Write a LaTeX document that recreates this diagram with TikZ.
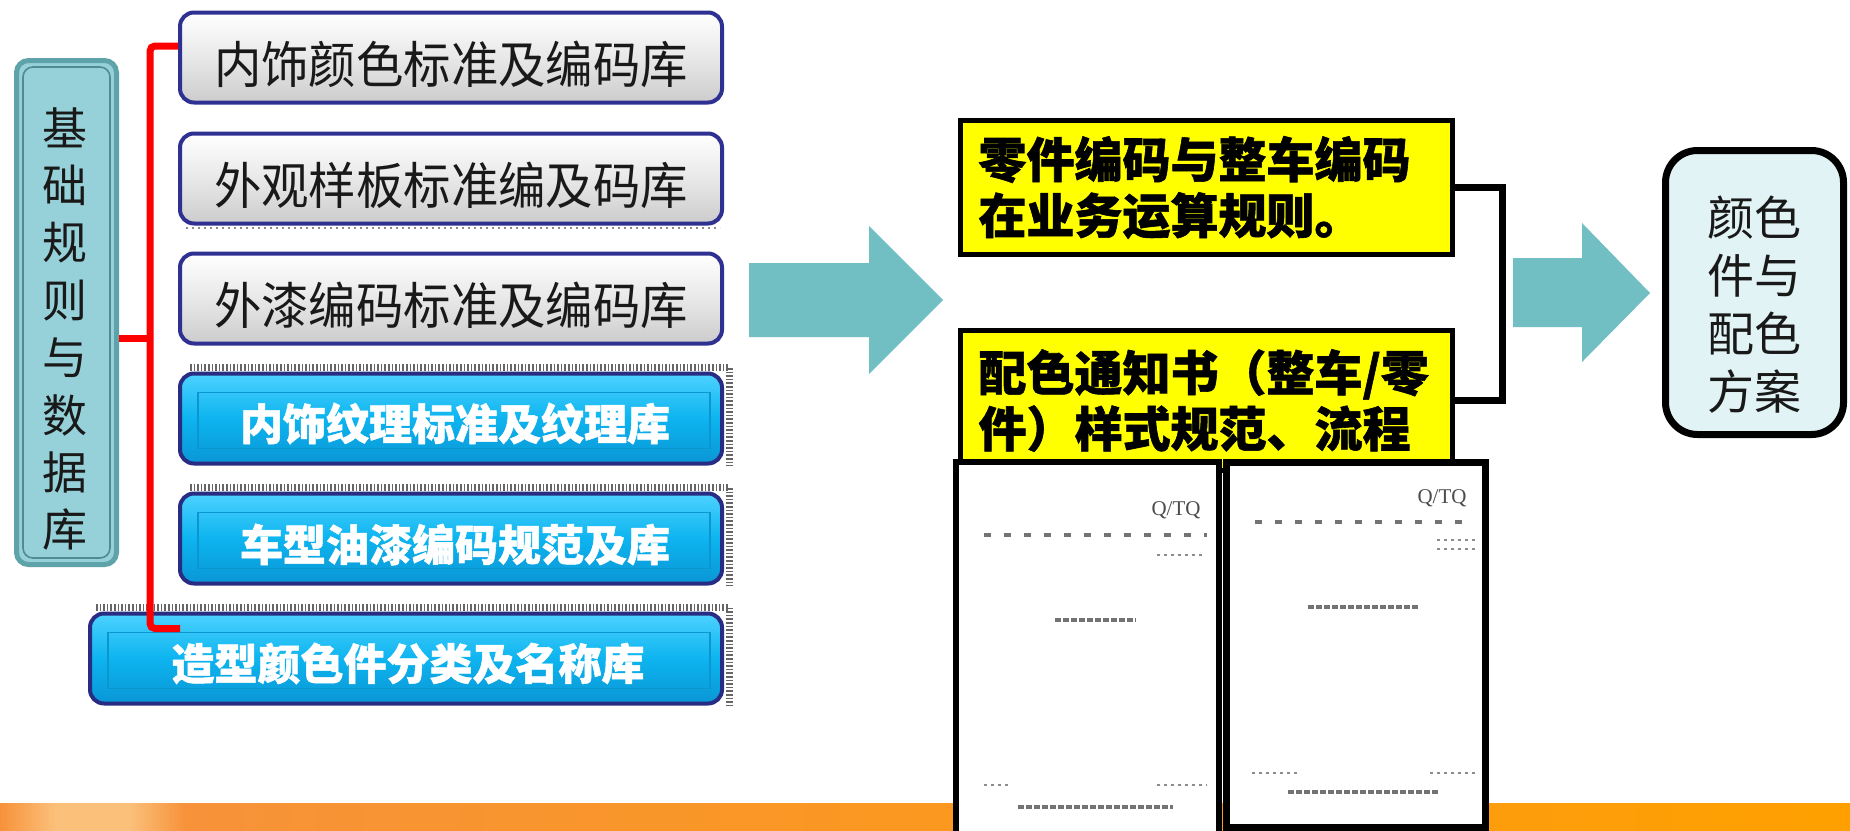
\documentclass[tikz,border=0pt]{standalone}
\usepackage{fontspec}
\newfontfamily\cjk[BoldFeatures={FakeBold=1.2}]{Noto Sans CJK SC}
\newfontfamily\docserif{Liberation Serif}
\usetikzlibrary{calc}
\definecolor{boxnavy}{HTML}{2E3192}
\definecolor{tealfill}{HTML}{96D1D9}
\definecolor{tealedge}{HTML}{5FA3AA}
\definecolor{arrowteal}{HTML}{72BFC3}
\definecolor{bluetop}{HTML}{4CD2FF}
\definecolor{bluemid}{HTML}{0DB4EF}
\definecolor{bluebot}{HTML}{0A96D6}
\definecolor{blueinner}{HTML}{0B96CF}
\definecolor{finfill}{HTML}{E1F3F4}
\definecolor{ylw}{HTML}{FFFF00}
\definecolor{orA}{HTML}{F7923A}
\definecolor{orH}{HTML}{FBC07A}
\definecolor{orB}{HTML}{FFA000}
\pgfdeclarehorizontalshading{band}{100bp}{color(0bp)=(orA); color(25bp)=(orA); color(26.5bp)=(orH); color(28.5bp)=(orH); color(30bp)=(orA); color(75bp)=(orB); color(100bp)=(orB)}
\newcommand{\dn}[2]{\raisebox{-#1}[\height][\depth]{#2}}
\newcommand{\tall}[1]{\scalebox{1}[1.06]{#1}}
\begin{document}
\begin{tikzpicture}[x=0.5pt,y=-0.5pt,
  graybox/.style={draw=boxnavy, line width=2pt, rounded corners=7pt,
    top color=white, bottom color=black!20, middle color=black!9,
    minimum width=271pt, minimum height=45pt, inner sep=0pt,
    font=\cjk\fontsize{23.7pt}{28pt}\selectfont, text=black!90},
  bluebox/.style={draw=boxnavy!90!black, line width=2pt, rounded corners=7pt,
    top color=bluetop, bottom color=bluebot, middle color=bluemid,
    minimum height=45pt, inner sep=0pt,
    font=\cjk\bfseries\fontsize{21.5pt}{26pt}\selectfont, text=white},
  dither/.style={line width=3.5pt, dash pattern=on 0.8pt off 1pt, black!60},
  bracket/.style={red, line width=3.5pt, rounded corners=2.5pt},
  blackline/.style={black, line width=3.5pt},
  ybox/.style={draw=black, line width=2.5pt, fill=ylw, minimum width=246pt,
    inner xsep=9pt, text width=228pt, align=left,
    font=\cjk\bfseries\fontsize{24pt}{28pt}\selectfont},
  docline/.style={line width=1.6pt, dash pattern=on 3pt off 2.5pt, black!55},
  docsmall/.style={line width=1pt, dash pattern=on 1.5pt off 2pt, black!45},
  qtq/.style={font=\docserif\fontsize{10.5pt}{12pt}\selectfont, text=black!70, inner sep=0pt}
]
\useasboundingbox (0,0) rectangle (1850,830);
\fill[white] (0,0) rectangle (1850,830);

% orange band at the bottom
\shade[shading=band] (0,803) rectangle (1850,830);

% dithered shadows
\draw[line width=1pt, dotted, black!45] (186,228) -- (720,228);
\draw[dither] (190,367) -- (729,367) -- (729,466);
\draw[dither] (190,487) -- (729,487) -- (729,586);
\draw[dither] (96,607) -- (729,607) -- (729,706);

% left column
\node[draw=tealedge, line width=2.5pt, fill=tealfill, rounded corners=6pt,
  minimum width=50pt, minimum height=252pt] (base) at (66.5,312.5) {};
\draw[tealedge!85!black, line width=0.8pt, rounded corners=5pt]
  ([shift={(9,9)}]base.north west) rectangle ([shift={(-9,-9)}]base.south east);
\node[font=\cjk\fontsize{22.5pt}{28.7pt}\selectfont, align=center, text=black!90, inner sep=0pt]
  (basetext) at (65,329) {基\\础\\规\\则\\与\\数\\据\\库};

\node[graybox] (g1) at (451,57.5) {\dn{3.5pt}{\tall{内饰颜色标准及编码库}}};
\node[graybox] (g2) at (451,178.5) {\dn{3.5pt}{\tall{外观样板标准编及码库}}};
\node[graybox] (g3) at (451,298.5) {\dn{3.5pt}{\tall{外漆编码标准及编码库}}};
\node[bluebox, minimum width=271pt] (b4) at (451,418.5) {\hspace*{4pt}\dn{2.5pt}{内饰纹理标准及纹理库}};
\node[bluebox, minimum width=271pt] (b5) at (451,538.5) {\hspace*{4pt}\dn{3pt}{车型油漆编码规范及库}};
\node[bluebox, minimum width=316pt] (b6) at (406,658.5) {\hspace*{2pt}\dn{2.5pt}{造型颜色件分类及名称库}};

% inner frames of the blue boxes
\draw[blueinner, line width=0.6pt] ([shift={(20,21)}]b4.north west) rectangle ([shift={(-14,-17)}]b4.south east);
\draw[blueinner, line width=0.6pt] ([shift={(20,21)}]b5.north west) rectangle ([shift={(-14,-17)}]b5.south east);
\draw[blueinner, line width=0.6pt] ([shift={(20,21)}]b6.north west) rectangle ([shift={(-14,-17)}]b6.south east);

% red bracket
\coordinate (brx) at (150,0);
\coordinate (brb) at ([shift={(92,17)}]b6.north west);
\draw[bracket] ([yshift=5.75pt]g1.west) -| (brx |- brb) -- (brb);
\draw[bracket] ([yshift=-12.75pt]base.east) -- ([yshift=-12.75pt]base.east -| brx);

% middle block arrow
\fill[arrowteal] (749,263) -- (869,263) -- (869,226) -- (943,300) -- (869,374) -- (869,337) -- (749,337) -- cycle;

% yellow boxes
\node[ybox, minimum height=67pt] (y1) at (1206.5,187.5) {零件编码与整车编码\\在业务运算规则。};
\node[ybox, minimum height=70pt] (y2) at (1206.5,400.5) {配色通知书（整车/零\\件）样式规范、流程};

% right bracket
\draw[blackline] (y1.east) -- ++(47,0) |- (y2.east);

% right block arrow
\fill[arrowteal] (1513,258) -- (1582,258) -- (1582,223) -- (1650,293) -- (1582,362) -- (1582,327) -- (1513,327) -- cycle;

% final box
\node[draw=black, line width=3.5pt, fill=finfill, rounded corners=16pt,
  minimum width=89pt, minimum height=142pt] (fin) at (1754.5,292.5) {};
\node[font=\cjk\fontsize{23.5pt}{29pt}\selectfont, align=center, text=black!90, inner sep=0pt]
  (fintext) at (1754,305) {颜色\\件与\\配色\\方案};

% documents
\draw[black, line width=3pt, fill=white] (956,462) rectangle (1219,836);
\draw[black, line width=3.5pt, fill=white] (1226,462) rectangle (1485,827);

\node[qtq] (q1) at (1176,510) {Q/TQ};
\draw[docline, line width=2pt, dash pattern=on 3.5pt off 6.5pt] (984,535) -- (1207,535);
\draw[docsmall] (1157,555) -- (1205,555);
\draw[docline, dash pattern=on 3pt off 1pt] (1055,620) -- (1136,620);
\draw[docsmall] (984,785) -- (1010,785);
\draw[docsmall] (1157,785) -- (1207,785);
\draw[docline, dash pattern=on 3pt off 1pt] (1018,807) -- (1173,807);

\node[qtq] (q2) at (1442,498) {Q/TQ};
\draw[docline, line width=2pt, dash pattern=on 3.5pt off 6.5pt] (1255,522) -- (1473,522);
\draw[docsmall] (1437,540) -- (1475,540);
\draw[docsmall] (1437,549) -- (1475,549);
\draw[docline, dash pattern=on 3pt off 1pt] (1308,607) -- (1420,607);
\draw[docsmall] (1252,773) -- (1297,773);
\draw[docsmall] (1430,773) -- (1475,773);
\draw[docline, dash pattern=on 3pt off 1pt] (1288,792) -- (1438,792);
\end{tikzpicture}
\end{document}
